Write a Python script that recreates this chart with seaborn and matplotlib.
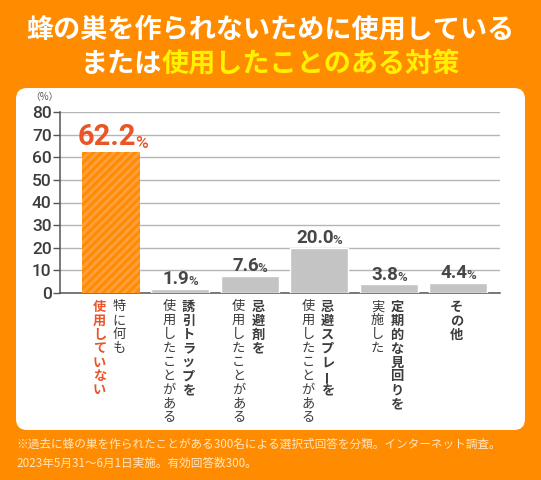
import matplotlib.pyplot as plt
import seaborn as sns
from matplotlib.patches import FancyBboxPatch
from matplotlib.transforms import IdentityTransform

# data
categories = ["特に何も使用していない", "誘引トラップ", "忌避剤", "忌避スプレー", "定期的な見回り", "その他"]
values = [62.2, 1.9, 7.6, 20.0, 3.8, 4.4]
# vertical label columns (right column is read first)
label_main = ["特に何も", "誘引トラップを", "忌避剤を", "忌避スプレーを", "定期的な見回りを", "その他"]
label_sub = ["使用していない", "使用したことがある", "使用したことがある", "使用したことがある", "実施した", ""]
yticks = [0, 10, 20, 30, 40, 50, 60, 70, 80]
title_1 = "蜂の巣を作られないために使用している"
title_2a = "または"
title_2b = "使用したことのある対策"
note_1 = "※過去に蜂の巣を作られたことがある300名による選択式回答を分類。インターネット調査。"
note_2 = "2023年5月31～6月1日実施。有効回答数300。"

ORANGE = "#FF8C00"
RED = "#EA5426"
GREY_BAR = "#C4C4C4"
TEXT = "#3C3C3C"

sns.set_style("white")
plt.rcParams["font.family"] = ["Noto Sans CJK JP", "DejaVu Sans"]
plt.rcParams["hatch.linewidth"] = 2.0

W, H = 541, 480
fig = plt.figure(figsize=(W / 100, H / 100), dpi=100, facecolor=ORANGE)

# white rounded panel
panel = FancyBboxPatch((16, H - 430), 509, 342,
                       boxstyle="round,pad=0,rounding_size=11",
                       transform=IdentityTransform(), facecolor="white",
                       edgecolor="none", zorder=0)
fig.add_artist(panel)

ax = fig.add_axes([60 / W, (H - 293) / H, 440 / W, 181 / H])
ax.patch.set_alpha(0)

colors = [ORANGE] + [GREY_BAR] * 5
sns.barplot(x=categories, y=values, hue=categories, palette=colors,
            legend=False, width=0.835, saturation=1, ax=ax, zorder=3)
first = ax.patches[0]
first.set_hatch("////")
first.set_edgecolor("#FFA040")
first.set_linewidth(0)

ax.set_xlim(-0.73, 5.6)
ax.set_ylim(0, 80)
ax.set_yticks(yticks)
ax.set_yticklabels([str(t) for t in yticks], family="Roboto",
                   weight="medium", fontsize=12.5, color=TEXT)
ax.tick_params(axis="y", length=5, width=1, color="#555555", pad=1, left=True)
ax.set_xticks([])
ax.set_xlabel("")
ax.set_ylabel("")
ax.yaxis.grid(True, color="#B5B5B5", lw=1)
ax.set_axisbelow(True)
for side in ["top", "right"]:
    ax.spines[side].set_visible(False)
for side in ["left", "bottom"]:
    ax.spines[side].set_color("#555555")
    ax.spines[side].set_linewidth(1.1)

# value labels with smaller %
for i, v in enumerate(values):
    big = i == 0
    col = RED if big else "#474747"
    num = ax.annotate(f"{v:.1f}", xy=(i, v), xytext=(-3, 5 if big else 3.5),
                      textcoords="offset points", ha="center", va="baseline",
                      family="Roboto", weight="bold", fontsize=21 if big else 13.5,
                      color=col, zorder=5)
    ax.annotate("%", xy=(1, 0), xycoords=num, xytext=(-0.8, 0),
                textcoords="offset points", ha="left", va="bottom",
                family="Roboto", weight="medium", fontsize=12.5 if big else 9.5,
                color=col, zorder=5)


def vertical_text(i, text, dx, **kw):
    for k, ch in enumerate(text):
        rot = 90 if ch == "ー" else 0
        ax.annotate(ch, xy=(i, 0), xycoords=("data", "axes fraction"),
                    xytext=(dx, -10 - k * 10), textcoords="offset points",
                    ha="center", va="center", fontsize=9.5, rotation=rot,
                    annotation_clip=False, **kw)


for i, (main, sub) in enumerate(zip(label_main, label_sub)):
    if i == 0:
        vertical_text(i, main, 6, color=TEXT)
        vertical_text(i, sub, -8, color=RED, weight="bold")
    elif sub:
        vertical_text(i, main, 6, color=TEXT, weight="bold")
        vertical_text(i, sub, -8, color=TEXT)
    else:
        vertical_text(i, main, -1, color=TEXT, weight="bold")

fig.text(44 / W, 1 - 97 / H, "（%）", ha="center", va="center",
         fontsize=7, color="#555555")

# title
fig.text(0.5, 1 - 29 / H, title_1, ha="center", va="center",
         fontsize=19.5, weight="bold", color="white")
t2a = fig.text(0, 1 - 64 / H, title_2a, ha="left", va="center",
               fontsize=19.5, weight="bold", color="white")
t2b = fig.text(0, 1 - 64 / H, title_2b, ha="left", va="center",
               fontsize=19.5, weight="bold", color="#FFF100")
r = fig.canvas.get_renderer()
w1 = t2a.get_window_extent(r).width
w2 = t2b.get_window_extent(r).width
x0 = (W - w1 - w2) / 2
t2a.set_x(x0 / W)
t2b.set_x((x0 + w1) / W)

# footnote
fig.text(16 / W, 1 - 444 / H, note_1, ha="left", va="center",
         fontsize=8.4, color="#FFE6C4")
fig.text(16 / W, 1 - 463 / H, note_2, ha="left", va="center",
         fontsize=8.4, color="#FFE6C4")

fig.savefig("out.png", dpi=100, facecolor=ORANGE)
